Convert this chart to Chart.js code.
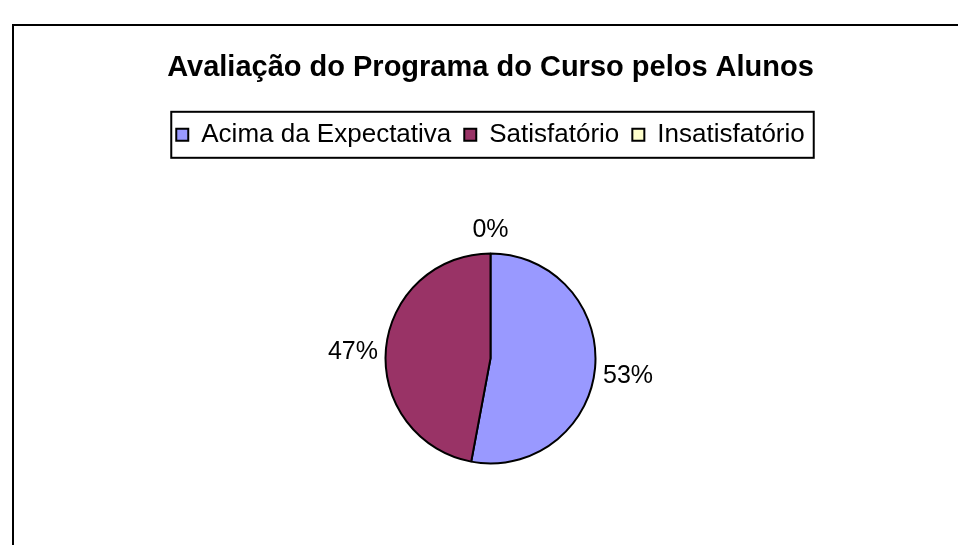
<!DOCTYPE html>
<html>
<head>
<meta charset="utf-8">
<script src="https://cdn.jsdelivr.net/npm/chart.js@4/dist/chart.umd.min.js"></script>
<style>
  html, body { margin: 0; padding: 0; background: #fff; overflow: hidden; }
  #wrap { position: relative; width: 958px; height: 545px; overflow: hidden; }
  #frame { position: absolute; left: 12px; top: 24px; right: -10px; bottom: -10px; border: 2px solid #000; }
  #grafico { position: absolute; left: 0; top: 0; }
</style>
</head>
<body>
<div id="wrap">
  <div id="frame"></div>
  <!-- o canvas passa um pouco do rodape para centralizar a pizza como no original -->
  <canvas id="grafico" width="958" height="559"></canvas>
</div>
<script>
const titulo = 'Avaliação do Programa do Curso pelos Alunos';
const categorias = ['Acima da Expectativa', 'Satisfatório', 'Insatisfatório'];
const respostas = [9, 8, 0];
const cores = ['#9999FF', '#993366', '#FFFFCC'];

const fonte = "'Liberation Sans', Arial, sans-serif";

// rotulos de porcentagem fora da pizza
const rotulosFora = {
  id: 'rotulosFora',
  afterDatasetsDraw(chart) {
    const ctx = chart.ctx;
    const meta = chart.getDatasetMeta(0);
    const total = respostas.reduce((a, b) => a + b, 0);
    ctx.save();
    ctx.font = '25px ' + fonte;
    ctx.fillStyle = '#000';
    ctx.textBaseline = 'middle';
    meta.data.forEach((arc, i) => {
      const p = arc.getProps(['x', 'y', 'startAngle', 'endAngle', 'outerRadius'], true);
      const meio = (p.startAngle + p.endAngle) / 2;
      const c = Math.cos(meio), s = Math.sin(meio);
      const r = p.outerRadius + 8;
      const px = p.x + c * r;
      const py = p.y + s * r + s * 15 + 6 * c * c;
      ctx.textAlign = c > 0.2 ? 'left' : (c < -0.2 ? 'right' : 'center');
      const pct = Math.round(respostas[i] / total * 100) + '%';
      ctx.fillText(pct, px, py);
    });
    ctx.restore();
  }
};

// moldura em volta da legenda
const molduraLegenda = {
  id: 'molduraLegenda',
  afterDraw(chart) {
    const caixas = chart.legend.legendHitBoxes;
    if (!caixas || !caixas.length) return;
    const esq = Math.min(...caixas.map(b => b.left)) - 5;
    const dir = Math.max(...caixas.map(b => b.left + b.width)) + 9;
    const topo = Math.min(...caixas.map(b => b.top)) - 10;
    const base = Math.max(...caixas.map(b => b.top + b.height)) + 10;
    const ctx = chart.ctx;
    ctx.save();
    ctx.strokeStyle = '#000';
    ctx.lineWidth = 2;
    ctx.strokeRect(esq, topo, dir - esq, base - topo);
    ctx.restore();
  }
};

new Chart(document.getElementById('grafico').getContext('2d'), {
  type: 'pie',
  data: {
    labels: categorias,
    datasets: [{
      data: respostas,
      backgroundColor: cores,
      borderColor: '#000',
      borderWidth: 2,
      radius: 105
    }]
  },
  options: {
    responsive: false,
    animation: false,
    layout: { padding: { left: 23, right: 0, top: 0, bottom: 0 } },
    plugins: {
      title: {
        display: true,
        text: titulo,
        color: '#000',
        font: { family: fonte, size: 29, weight: 'bold' },
        padding: { top: 51, bottom: 23 }
      },
      legend: {
        display: true,
        position: 'top',
        labels: {
          color: '#000',
          font: { family: fonte, size: 26 },
          boxWidth: 12,
          boxHeight: 12,
          padding: 13
        }
      },
      tooltip: { enabled: false }
    }
  },
  plugins: [rotulosFora, molduraLegenda]
});
</script>
</body>
</html>
